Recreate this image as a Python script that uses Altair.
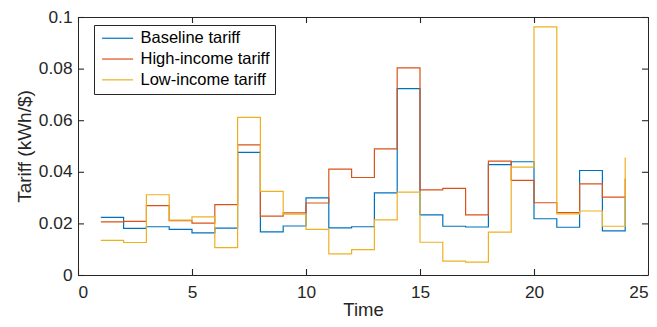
import altair as alt
import pandas as pd

time = list(range(1, 25))
baseline = [0.0223, 0.0181, 0.0187, 0.0177, 0.0163, 0.0182, 0.0475, 0.0167,
            0.0190, 0.0299, 0.0183, 0.0187, 0.0318, 0.0722, 0.0233, 0.0189,
            0.0186, 0.0428, 0.0439, 0.0218, 0.0185, 0.0405, 0.0171, 0.0303]
high = [0.0206, 0.0208, 0.0269, 0.0211, 0.0201, 0.0273, 0.0504, 0.0228,
        0.0241, 0.0279, 0.0410, 0.0378, 0.0489, 0.0803, 0.0330, 0.0336,
        0.0233, 0.0441, 0.0367, 0.0280, 0.0242, 0.0353, 0.0302, 0.0374]
low = [0.0134, 0.0126, 0.0311, 0.0213, 0.0225, 0.0106, 0.0611, 0.0324,
       0.0236, 0.0177, 0.0082, 0.0098, 0.0214, 0.0321, 0.0127, 0.0054,
       0.0050, 0.0166, 0.0418, 0.0962, 0.0237, 0.0248, 0.0189, 0.0455]

series_names = ["Baseline tariff", "High-income tariff", "Low-income tariff"]
series_colors = ["#0072BD", "#D95319", "#EDB120"]
x_ticks = [0, 5, 10, 15, 20, 25]
y_ticks = [0, 0.02, 0.04, 0.06, 0.08, 0.1]
x_range = [0, 25]
y_range = [0, 0.1]

rows = []
for name, vals in zip(series_names, [baseline, high, low]):
    for t, v in zip(time, vals):
        rows.append({"time": t, "value": v, "series": name})
df = pd.DataFrame(rows)

W, H = 570, 258
TICK = 6
FONT = "Liberation Sans"
INK = "#262626"

xscale = alt.Scale(domain=x_range, nice=False, zero=False)
yscale = alt.Scale(domain=y_range, nice=False)

lines = alt.Chart(df).mark_line(interpolate="step-after", strokeWidth=1.2, clip=True).encode(
    x=alt.X("time:Q", scale=xscale,
            axis=alt.Axis(orient="bottom", values=x_ticks, ticks=False, domain=False, grid=False,
                          labelFontSize=17.3, labelPadding=8, labelColor=INK, labelFont=FONT,
                          title="Time", titleFontSize=18.5, titleFont=FONT, titleColor=INK,
                          titleFontWeight="normal", titlePadding=0)),
    y=alt.Y("value:Q", scale=yscale,
            axis=alt.Axis(orient="left", values=y_ticks, format="~g", ticks=False, domain=False,
                          grid=False, labelFontSize=17.3, labelPadding=6, labelColor=INK,
                          labelFont=FONT, title="Tariff (kWh/$)", titleFontSize=19,
                          titleFont=FONT, titleColor=INK, titleFontWeight="normal",
                          titlePadding=4)),
    color=alt.Color("series:N",
                    scale=alt.Scale(domain=series_names, range=series_colors),
                    sort=series_names,
                    legend=alt.Legend(orient="none", legendX=16, legendY=8, title=None,
                                      symbolType="M-1,0H5", symbolSize=107,
                                      symbolStrokeWidth=1.2, labelOffset=25,
                                      labelFontSize=16.5, labelFont=FONT, labelColor="#000000",
                                      padding=5, rowPadding=3.8,
                                      strokeColor=INK, fillColor="#ffffff")),
)


def x_tick_layer(edge_value, offset):
    d = pd.DataFrame({"time": x_ticks, "value": [edge_value] * len(x_ticks)})
    return alt.Chart(d).mark_tick(orient="vertical", size=TICK, thickness=1.1, color=INK,
                                  opacity=1, yOffset=offset, xOffset=0.5).encode(
        x=alt.X("time:Q", scale=xscale),
        y=alt.Y("value:Q", scale=yscale),
    )


def y_tick_layer(edge_value, offset):
    d = pd.DataFrame({"time": [edge_value] * len(y_ticks), "value": y_ticks})
    return alt.Chart(d).mark_tick(orient="horizontal", size=TICK, thickness=1.1, color=INK,
                                  opacity=1, xOffset=offset, yOffset=0.5).encode(
        x=alt.X("time:Q", scale=xscale),
        y=alt.Y("value:Q", scale=yscale),
    )


chart = alt.layer(
    x_tick_layer(y_range[0], -TICK / 2),
    x_tick_layer(y_range[1], TICK / 2),
    y_tick_layer(x_range[0], TICK / 2),
    y_tick_layer(x_range[1], -TICK / 2),
    lines,
).properties(
    width=W, height=H,
    autosize=alt.AutoSizeParams(type="none"),
    padding={"left": 70, "top": 9, "right": 1, "bottom": 311 - 9 - H},
    background="#ffffff",
).configure_view(stroke=INK, strokeWidth=1)

chart.save("out.html", embed_options={"renderer": "svg", "actions": False})
